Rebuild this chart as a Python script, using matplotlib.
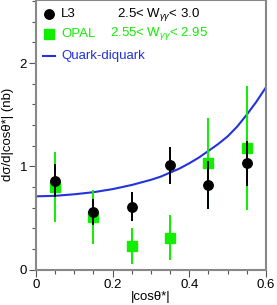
import matplotlib
matplotlib.use("Agg")
import matplotlib.pyplot as plt

# L3, 2.5 < W < 3.0
l3_x = [0.05, 0.15, 0.25, 0.35, 0.45, 0.55]
l3_y = [0.86, 0.555, 0.61, 1.01, 0.82, 1.03]
l3_err = [0.16, 0.125, 0.14, 0.18, 0.23, 0.22]

# OPAL, 2.55 < W < 2.95
opal_x = [0.05, 0.15, 0.25, 0.35, 0.45, 0.55]
opal_y = [0.80, 0.51, 0.23, 0.31, 1.03, 1.175]
opal_err = [0.34, 0.26, 0.17, 0.22, 0.44, 0.60]

# Quark-diquark model curve
qd_x = [0.0, 0.05, 0.1, 0.15, 0.2, 0.25, 0.3, 0.325, 0.35, 0.375, 0.4, 0.425,
        0.45, 0.475, 0.5, 0.525, 0.55, 0.575, 0.6]
qd_y = [0.71, 0.715, 0.73, 0.75, 0.78, 0.82, 0.87, 0.90, 0.94, 0.98, 1.03, 1.085,
        1.15, 1.215, 1.29, 1.385, 1.50, 1.625, 1.765]

plt.rcParams["font.family"] = ["Liberation Sans", "DejaVu Sans"]
plt.rcParams["mathtext.fontset"] = "custom"
plt.rcParams["mathtext.rm"] = "Liberation Sans"
plt.rcParams["mathtext.it"] = "Liberation Sans:italic"
plt.rcParams["font.size"] = 9.5

green = "#11ee00"
blue = "#2233dd"
gray = "#888888"

fig = plt.figure(figsize=(2.77, 3.05), dpi=100)
ax = fig.add_axes([0.130, 0.1157, 0.830, 0.8843])

ax.plot(qd_x, qd_y, color=blue, linewidth=1.5, zorder=2)
ax.errorbar(opal_x, opal_y, yerr=opal_err, fmt="s", color=green, ms=6.5,
            elinewidth=1.4, capsize=0, zorder=3)
ax.errorbar(l3_x, l3_y, yerr=l3_err, fmt="o", color="black", ms=6.8,
            elinewidth=1.4, capsize=0, zorder=4)

ax.set_xlim(0, 0.6)
ax.set_ylim(0, 2.61)
ax.set_xticks([0, 0.2, 0.4, 0.6])
ax.set_xticklabels(["0", "0.2", "0.4", "0.6"])
ax.set_xticks([i * 0.05 for i in range(13)], minor=True)
ax.set_yticks([0, 1, 2])
ax.set_yticks([i * 0.2 for i in range(14)], minor=True)

for side in ["left", "bottom", "right", "top"]:
    ax.spines[side].set_color(gray)
    ax.spines[side].set_linewidth(1.5)
ax.tick_params(which="both", direction="out", color="#555555", width=0.8,
               top=False, right=False, labelsize=9.5)
ax.tick_params(which="major", length=5, pad=1.5)
ax.tick_params(which="minor", length=3)

ax.set_xlabel("|cos\u03b8*|", fontsize=9.5, labelpad=0)
ax.set_ylabel("d\u03c3/d|cos\u03b8*| (nb)", fontsize=9.5)
ax.yaxis.set_label_coords(-0.095, 0.50)

# legend
ax.plot([0.057], [0.948], "o", color="black", ms=6.8, transform=ax.transAxes, clip_on=False)
ax.text(0.109, 0.948, "L3", transform=ax.transAxes, va="center", ha="left", fontsize=9.5)
ax.text(0.352, 0.948, r"2.5< W$_{\gamma\gamma}$< 3.0", transform=ax.transAxes,
        va="center", ha="left", fontsize=9.5)
ax.plot([0.057], [0.874], "s", color=green, ms=6.5, transform=ax.transAxes, clip_on=False)
ax.text(0.109, 0.874, "OPAL", transform=ax.transAxes, va="center", ha="left",
        fontsize=9.5, color=green)
ax.text(0.322, 0.874, r"2.55< W$_{\gamma\gamma}$< 2.95", transform=ax.transAxes,
        va="center", ha="left", fontsize=9.5, color=green)
ax.plot([0.030, 0.083], [0.792, 0.792], color=blue, linewidth=1.5, transform=ax.transAxes)
ax.text(0.109, 0.792, "Quark-diquark", transform=ax.transAxes, va="center", ha="left",
        fontsize=9.5, color=blue)

fig.savefig("out.png", dpi=100)
